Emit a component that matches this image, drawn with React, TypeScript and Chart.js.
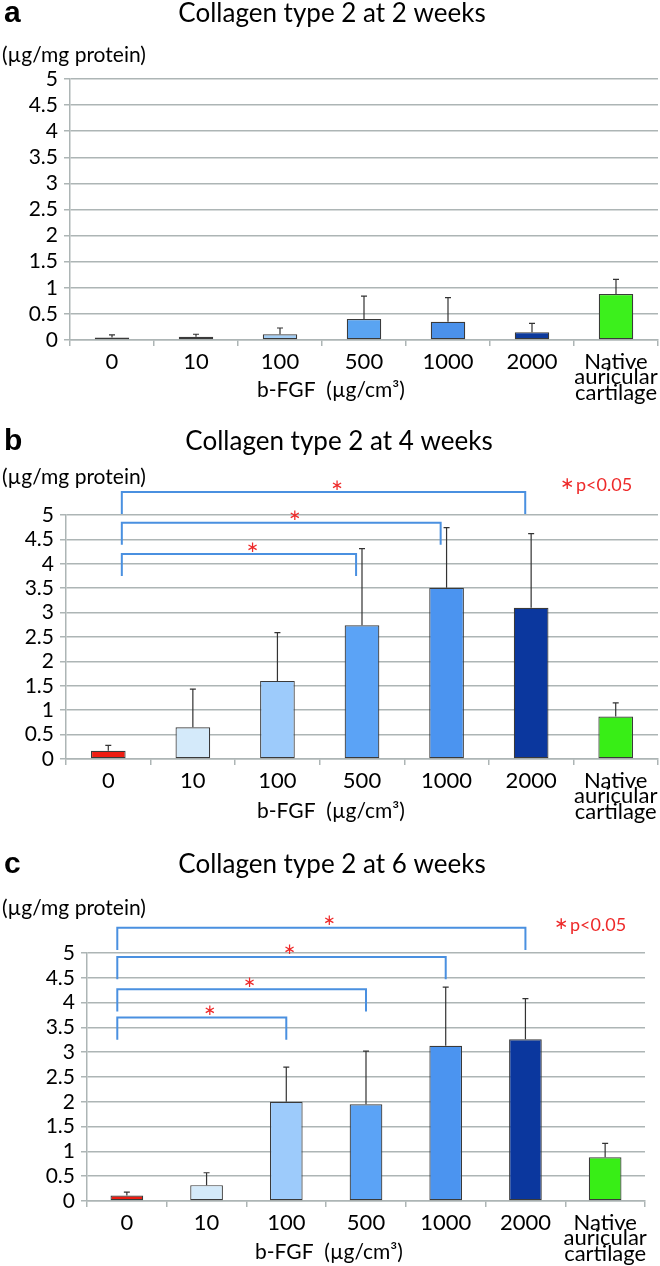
import { useEffect, useRef } from "react";
import { Chart, registerables } from "chart.js";

Chart.register(...registerables);

const doses = ["0", "10", "100", "500", "1000", "2000", ["Native", "auricular", "cartilage"]];
const yTickValues = [0, 0.5, 1, 1.5, 2, 2.5, 3, 3.5, 4, 4.5, 5];

const week2Mean = [0.05, 0.06, 0.11, 0.4, 0.35, 0.15, 0.88];
const week2Sd = [0.05, 0.05, 0.12, 0.44, 0.46, 0.17, 0.28];

const week4Mean = [0.17, 0.65, 1.6, 2.74, 3.51, 3.1, 0.87];
const week4Sd = [0.11, 0.78, 0.99, 1.57, 1.23, 1.52, 0.28];

const week6Mean = [0.11, 0.32, 2.0, 1.95, 3.13, 3.26, 0.88];
const week6Sd = [0.07, 0.25, 0.7, 1.07, 1.18, 0.82, 0.28];

// significant comparisons (group indices) and the height of each bracket
const week4Pairs = [[0, 5], [0, 4], [0, 3]];
const week4Levels = [5.47, 4.84, 4.2];
const week6Pairs = [[0, 5], [0, 4], [0, 3], [0, 2]];
const week6Levels = [5.51, 4.92, 4.27, 3.7];

const colorsWeek2 = ["#c3cfdb", "#dcecf9", "#a3cff7", "#5aa4f2", "#4b91ea", "#0d3a9c", "#3cf01c"];
const colorsLater = ["#ee1c12", "#d4eafa", "#9dcbfb", "#5ba3f6", "#4b94f0", "#0b379e", "#38ee16"];

const GRID = "#adb5b5";
const FONT = "Lato";

type Panel = {
  letter: string;
  title: string;
  means: number[];
  sds: number[];
  colors: string[];
  pairs: number[][];
  levels: number[];
  top: number;
  height: number;
  padTop: number;
  padRight: number;
  padBottom: number;
  yWidth: number;
  xHeight: number;
  letterY: number;
  titleX: number;
  titleY: number;
  unitY: number;
  xTitleX: number;
  xTitleY: number;
  pX: number;
  pY: number;
  legShift: number[];
  starShift: number;
};

const panels: Panel[] = [
  {
    letter: "a", title: "Collagen type 2 at 2 weeks", means: week2Mean, sds: week2Sd, colors: colorsWeek2,
    pairs: [], levels: [],
    top: 0, height: 420, padTop: 79, padRight: 2, padBottom: 10, yWidth: 70, xHeight: 70,
    letterY: 14, titleX: 332, titleY: 14, unitY: 55, xTitleX: 331, xTitleY: 390, pX: 0, pY: 0,
    legShift: [0, 0], starShift: 0,
  },
  {
    letter: "b", title: "Collagen type 2 at 4 weeks", means: week4Mean, sds: week4Sd, colors: colorsLater,
    pairs: week4Pairs, levels: week4Levels,
    top: 420, height: 420, padTop: 95, padRight: 2, padBottom: 11, yWidth: 66, xHeight: 70,
    letterY: 442, titleX: 339, titleY: 442, unitY: 477, xTitleX: 331, xTitleY: 811, pX: 560, pY: 485,
    legShift: [0.16, -0.07], starShift: 0.16,
  },
  {
    letter: "c", title: "Collagen type 2 at 6 weeks", means: week6Mean, sds: week6Sd, colors: colorsLater,
    pairs: week6Pairs, levels: week6Levels,
    top: 840, height: 426, padTop: 113, padRight: 15, padBottom: 0, yWidth: 87, xHeight: 65,
    letterY: 865, titleX: 332, titleY: 865, unitY: 908, xTitleX: 329, xTitleY: 1252, pX: 554, pY: 925,
    legShift: [-0.12, 0], starShift: 0.1,
  },
];

const overlay = (p: Panel) => ({
  id: "overlay" + p.letter,
  afterDatasetsDraw(chart: any) {
    const { ctx } = chart;
    const x = chart.scales.x;
    const y = chart.scales.y;
    ctx.save();

    // error bars (upper only)
    ctx.strokeStyle = "#333";
    ctx.lineWidth = 1.2;
    p.means.forEach((m, i) => {
      const cx = x.getPixelForValue(i);
      const y0 = y.getPixelForValue(m);
      const y1 = y.getPixelForValue(m + p.sds[i]);
      ctx.beginPath();
      ctx.moveTo(cx, y0);
      ctx.lineTo(cx, y1);
      ctx.moveTo(cx - 3, y1);
      ctx.lineTo(cx + 3, y1);
      ctx.stroke();
    });

    // significance brackets
    p.pairs.forEach((pair, k) => {
      const lvl = p.levels[k];
      const xa = x.getPixelForValue(pair[0] + p.legShift[0]);
      const xb = x.getPixelForValue(pair[1] + p.legShift[1]);
      const yl = y.getPixelForValue(lvl);
      const yd = y.getPixelForValue(lvl - 0.45);
      ctx.strokeStyle = "#4a90e0";
      ctx.lineWidth = 2;
      ctx.beginPath();
      ctx.moveTo(xa, yd);
      ctx.lineTo(xa, yl);
      ctx.lineTo(xb, yl);
      ctx.lineTo(xb, yd);
      ctx.stroke();
      const sx = x.getPixelForValue((pair[0] + p.legShift[0] + pair[1] + p.legShift[1]) / 2 + p.starShift);
      ctx.fillStyle = "#ee2a2a";
      ctx.font = "15px 'DejaVu Sans'";
      ctx.textAlign = "center";
      ctx.textBaseline = "middle";
      ctx.fillText("\u2217", sx, y.getPixelForValue(lvl + 0.13));
    });

    // texts
    ctx.fillStyle = "#000";
    ctx.textBaseline = "middle";
    ctx.textAlign = "left";
    ctx.font = "bold 30px 'Liberation Sans'";
    ctx.fillText(p.letter, 4, p.letterY - p.top);
    ctx.textAlign = "center";
    ctx.font = `26px ${FONT}`;
    ctx.fillText(p.title, p.titleX, p.titleY - p.top);
    ctx.textAlign = "left";
    ctx.font = `21px ${FONT}`;
    ctx.fillText("(\u00b5g/mg protein)", 2, p.unitY - p.top);
    ctx.textAlign = "center";
    ctx.fillText("b-FGF  (\u00b5g/cm\u00b3)", p.xTitleX, p.xTitleY - p.top);

    if (p.pairs.length) {
      ctx.fillStyle = "#ee2a2a";
      ctx.textAlign = "left";
      ctx.font = "17px 'DejaVu Sans'";
      ctx.fillText("\u2217", p.pX, p.pY - p.top);
      ctx.font = `18px ${FONT}`;
      ctx.fillText("p<0.05", p.pX + 16, p.pY - p.top);
    }
    ctx.restore();
  },
});

function PanelChart({ panel }: { panel: Panel }) {
  const canvasRef = useRef<HTMLCanvasElement>(null);

  useEffect(() => {
    if (!canvasRef.current) return;
    const chart = new Chart(canvasRef.current, {
      type: "bar",
      data: {
        labels: doses,
        datasets: [
          {
            data: panel.means,
            backgroundColor: panel.colors,
            borderColor: "#3a3a3a",
            borderWidth: 1.2,
            borderSkipped: false,
            barPercentage: 0.41,
            categoryPercentage: 1,
          },
        ],
      },
      options: {
        animation: false,
        responsive: false,
        events: [],
        layout: {
          padding: { left: 0, top: panel.padTop, right: panel.padRight, bottom: panel.padBottom },
        },
        plugins: {
          legend: { display: false },
          tooltip: { enabled: false },
        },
        scales: {
          x: {
            offset: true,
            grid: {
              offset: true,
              drawOnChartArea: false,
              drawTicks: true,
              tickLength: 6,
              color: GRID,
              lineWidth: 1.5,
            },
            border: { color: GRID, width: 1.5 },
            ticks: {
              color: "#000",
              font: { family: FONT, size: 22, lineHeight: 0.7 },
              padding: 8,
              maxRotation: 0,
              autoSkip: false,
            },
            afterFit: (s: any) => {
              s.height = panel.xHeight;
              s.paddingLeft = 0;
              s.paddingRight = 0;
            },
          },
          y: {
            min: 0,
            max: 5,
            afterBuildTicks: (s: any) => {
              s.ticks = yTickValues.map((v) => ({ value: v }));
            },
            grid: { color: GRID, lineWidth: 1.5, tickLength: 6 },
            border: { color: GRID, width: 1.5 },
            ticks: {
              color: "#000",
              font: { family: FONT, size: 21 },
              padding: 6,
              autoSkip: false,
              callback: (v: any) => String(v),
            },
            afterFit: (s: any) => {
              s.width = panel.yWidth;
            },
          },
        },
      },
      plugins: [overlay(panel)],
    });

    return () => {
      chart.destroy();
    };
  }, [panel]);

  return (
    <canvas
      ref={canvasRef}
      width={660}
      height={panel.height}
      style={{ position: "absolute", left: 0, top: panel.top }}
    />
  );
}

export default function App() {
  useEffect(() => {
    document.body.style.margin = "0";
  }, []);

  return (
    <div style={{ position: "relative", width: 660, height: 1266, background: "#fff" }}>
      {panels.map((p) => (
        <PanelChart key={p.letter} panel={p} />
      ))}
    </div>
  );
}
